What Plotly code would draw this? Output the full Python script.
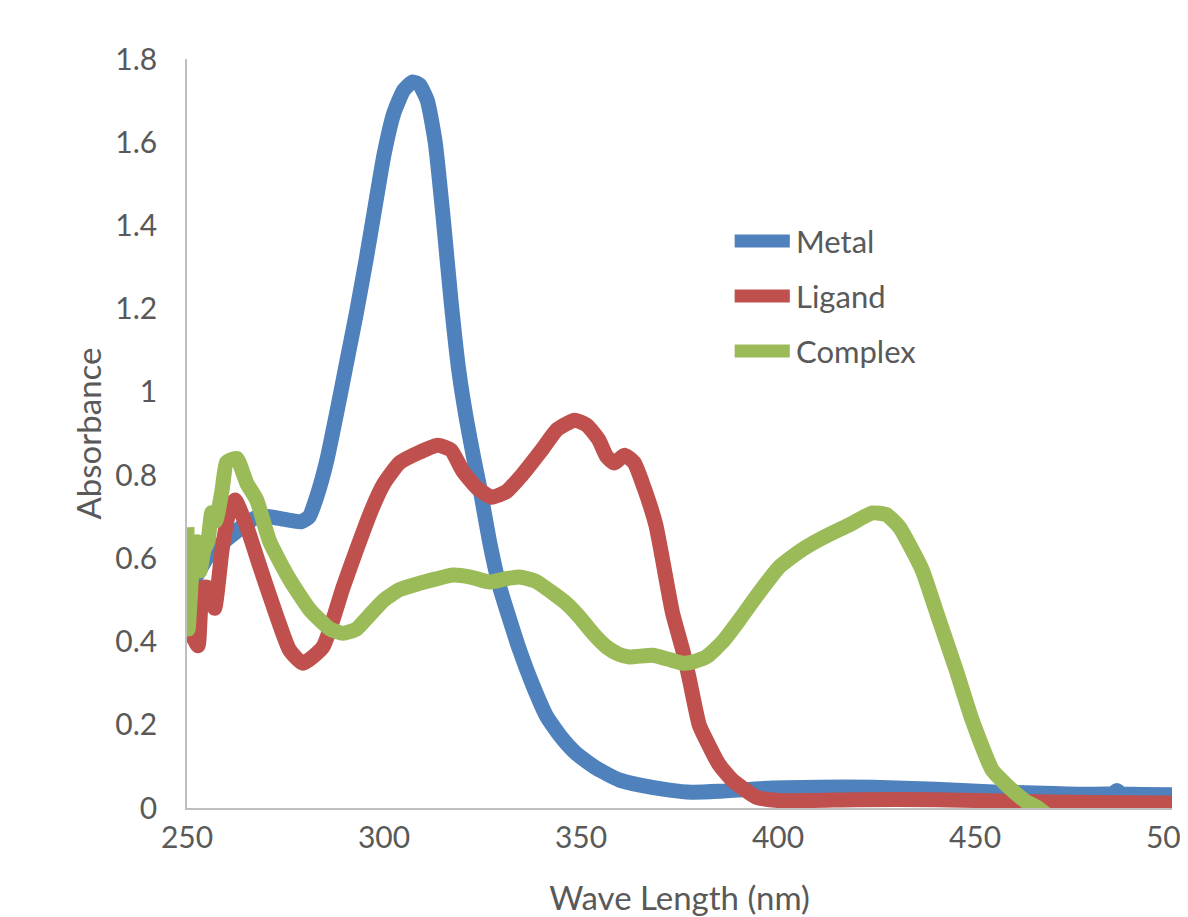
import plotly.graph_objects as go

# Metal (blue)
metal_x = [250, 252, 255, 258, 262, 265, 268, 271, 274, 277, 279, 281, 283, 285.5, 288, 290.5, 293, 295.5, 298, 300, 302.5,
           305, 307.3, 309, 311, 313, 315, 317, 319, 321, 323, 324.3, 327, 329.4, 332, 334.4, 338, 341.3, 345, 348.9,
           354, 359.8, 365, 372.5, 378, 385, 398.6, 410, 424, 440, 456, 470, 480, 485, 486, 487, 490, 500]
metal_y = [0.50, 0.55, 0.60, 0.63, 0.66, 0.685, 0.70, 0.70, 0.695, 0.69, 0.688, 0.70, 0.75, 0.836, 0.95, 1.07, 1.19, 1.32, 1.46, 1.57, 1.67,
           1.725, 1.745, 1.738, 1.70, 1.60, 1.42, 1.22, 1.05, 0.93, 0.83, 0.77, 0.63, 0.53, 0.45, 0.38, 0.29, 0.22, 0.17, 0.13,
           0.095, 0.067, 0.055, 0.043, 0.038, 0.040, 0.048, 0.05, 0.05, 0.045, 0.038, 0.035, 0.033, 0.035, 0.042, 0.035, 0.033, 0.032]

# Ligand (red)
ligand_x = [250, 251.5, 252.8, 254, 255.3, 257, 258.9, 260.9, 262.2, 265.2, 268.5, 272.8, 276, 279.4, 284.5, 289.6,
            293, 297, 300, 304, 309, 313.6, 317, 320, 323.5, 327.3, 331, 335, 340, 344, 348.4, 351.5, 354.5, 356.5, 358.5,
            361, 363.5, 366, 369, 373.2, 375.8, 377.5, 380, 381.8, 385, 388.4, 394.5, 400, 420, 440, 460, 480, 500]
ligand_y = [0.42, 0.41, 0.39, 0.53, 0.53, 0.48, 0.62, 0.72, 0.74, 0.675, 0.58, 0.46, 0.38, 0.348, 0.387, 0.53,
            0.62, 0.72, 0.78, 0.83, 0.855, 0.872, 0.86, 0.81, 0.77, 0.747, 0.76, 0.80, 0.86, 0.91, 0.932, 0.92, 0.885, 0.845, 0.829,
            0.848, 0.83, 0.77, 0.68, 0.47, 0.38, 0.31, 0.20, 0.163, 0.105, 0.067, 0.026, 0.018, 0.02, 0.02, 0.016, 0.013, 0.012]

# Complex (green)
complex_x = [250, 250.3, 251.5, 252.5, 253.3, 254.3, 255.3, 256.3, 257.3, 258.9, 260, 261.5, 262.7, 265.2, 267.7, 271, 276,
             281.2, 286.3, 289.6, 293, 296, 300, 304, 309, 313, 317.5, 322, 326.8, 330.5, 334.4, 338.5, 342.8, 346.5, 349.6,
             353, 356.5, 359.5, 362.3, 368.2, 372, 375.8, 378, 381.8, 386, 390.2, 395, 400.4, 406, 411.3, 418, 424, 427.5,
             430.8, 433.5, 436.6, 440.9, 445.2, 449.3, 454.4, 457.5, 460.4, 463, 466, 470]
complex_y = [0.675, 0.43, 0.60, 0.64, 0.57, 0.62, 0.64, 0.71, 0.69, 0.764, 0.83, 0.838, 0.84, 0.78, 0.74, 0.64, 0.55,
             0.476, 0.43, 0.42, 0.43, 0.46, 0.50, 0.525, 0.54, 0.55, 0.56, 0.555, 0.543, 0.55, 0.555, 0.545, 0.517, 0.49, 0.459,
             0.42, 0.387, 0.37, 0.363, 0.367, 0.358, 0.348, 0.35, 0.363, 0.40, 0.452, 0.515, 0.58, 0.62, 0.649, 0.68, 0.709, 0.705,
             0.675, 0.63, 0.572, 0.452, 0.332, 0.211, 0.091, 0.06, 0.035, 0.015, 0.0, -0.03]

series_names = ["Metal", "Ligand", "Complex"]
series_colors = ["#4F81BD", "#C0504D", "#9BBB59"]

x_ticks = [250, 300, 350, 400, 450, 500]
y_ticks = [0, 0.2, 0.4, 0.6, 0.8, 1, 1.2, 1.4, 1.6, 1.8]
y_tick_text = ["0", "0.2", "0.4", "0.6", "0.8", "1", "1.2", "1.4", "1.6", "1.8"]

FONT = "Lato, Carlito, Calibri, sans-serif"
TXT = "#595959"

fig = go.Figure()
for xs, ys, name, col in zip([metal_x, ligand_x, complex_x], [metal_y, ligand_y, complex_y], series_names, series_colors):
    fig.add_trace(go.Scatter(x=xs, y=ys, mode="lines", name=name,
                             line=dict(color=col, width=15, shape="spline", smoothing=0.5),
                             showlegend=False))

# manual legend
legend_y = [0.757, 0.6836, 0.610]
for name, col, ly in zip(series_names, series_colors, legend_y):
    fig.add_shape(type="line", xref="paper", yref="paper", x0=0.556, x1=0.612, y0=ly, y1=ly,
                  line=dict(color=col, width=13))
    fig.add_annotation(xref="paper", yref="paper", x=0.616, y=ly, text=name, showarrow=False,
                       xanchor="left", yanchor="middle", font=dict(family=FONT, size=31, color=TXT))

fig.update_layout(
    width=1180, height=909,
    margin=dict(l=179, r=16, t=51, b=109, autoexpand=False),
    plot_bgcolor="white", paper_bgcolor="white",
    font=dict(family=FONT, size=30, color=TXT),
    xaxis=dict(range=[250, 500], tickvals=x_ticks, showgrid=False, zeroline=False,
               showline=True, linecolor="#BFBFBF", linewidth=1.5, ticks="",
               automargin=False, ticklabelstandoff=2, ticklabeloverflow="allow",
               title=dict(text="Wave Length (nm)", font=dict(size=33, color=TXT), standoff=36),
               tickfont=dict(size=30, color=TXT)),
    yaxis=dict(range=[0, 1.8], tickvals=y_ticks, ticktext=y_tick_text, showgrid=False, zeroline=False,
               showline=True, linecolor="#BFBFBF", linewidth=1.5, ticks="",
               automargin=False, ticklabelstandoff=22,
               title=dict(text="Absorbance", font=dict(size=33, color=TXT), standoff=4),
               tickfont=dict(size=30, color=TXT)),
)

fig.write_html("out.html")
